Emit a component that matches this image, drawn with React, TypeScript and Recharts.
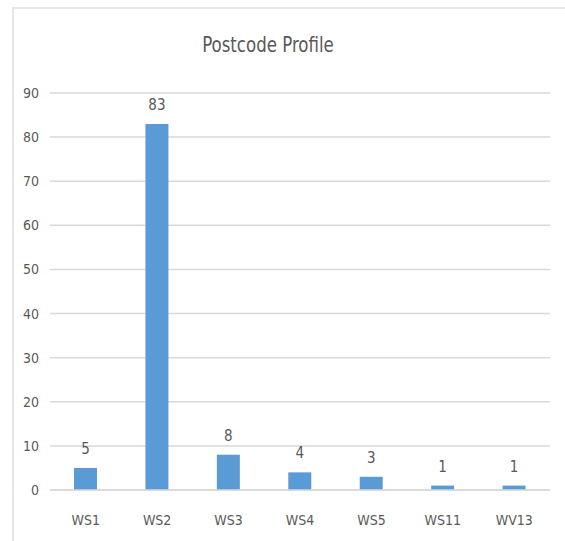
import React from 'react';
import { BarChart, Bar, XAxis, YAxis, CartesianGrid, LabelList } from 'recharts';

const postcodes = ['WS1', 'WS2', 'WS3', 'WS4', 'WS5', 'WS11', 'WV13'];
const counts = [5, 83, 8, 4, 3, 1, 1];
const yTicks = [0, 10, 20, 30, 40, 50, 60, 70, 80, 90];

const chartData = postcodes.map((name, i) => ({ name, count: counts[i] }));

const FONT = '"DejaVu Sans Condensed", "Liberation Sans Narrow", "Liberation Sans", sans-serif';
const GREY = '#595959';

export default function App() {
  return (
    <div style={{ position: 'absolute', left: 0, top: 0, width: 565, height: 541, background: '#fff', overflow: 'hidden', fontFamily: FONT, fontStretch: 'condensed' }}>
      {/* chart frame, runs off the right and bottom edges */}
      <div style={{ position: 'absolute', left: 12, top: 7, width: 600, height: 600, border: '2px solid #e6e6e6' }} />
      <div style={{ position: 'absolute', left: 0, width: 536, top: 32, textAlign: 'center', fontSize: 22, color: GREY, transform: 'scaleX(0.84)' }}>
        Postcode Profile
      </div>
      <BarChart
        width={565}
        height={541}
        data={chartData}
        margin={{ top: 93, right: 15, left: 0, bottom: 0 }}
        style={{ position: 'absolute', left: 0, top: 0 }}
      >
        <CartesianGrid vertical={false} stroke="#d9d9d9" strokeWidth={1.5} />
        <XAxis
          dataKey="name"
          height={51}
          axisLine={{ stroke: '#d9d9d9', strokeWidth: 1.5 }}
          tickLine={false}
          tickSize={0}
          tickMargin={25}
          tick={{ fill: GREY, fontSize: 14, fontFamily: FONT }}
        />
        <YAxis
          width={50}
          domain={[0, 90]}
          ticks={yTicks}
          axisLine={false}
          tickLine={false}
          tickSize={0}
          tickMargin={11}
          tick={{ fill: GREY, fontSize: 14, fontFamily: FONT }}
        />
        <Bar dataKey="count" fill="#5b9bd5" barSize={23} isAnimationActive={false}>
          <LabelList dataKey="count" position="top" offset={14} fill={GREY} fontSize={15} fontFamily={FONT} />
        </Bar>
      </BarChart>
    </div>
  );
}
